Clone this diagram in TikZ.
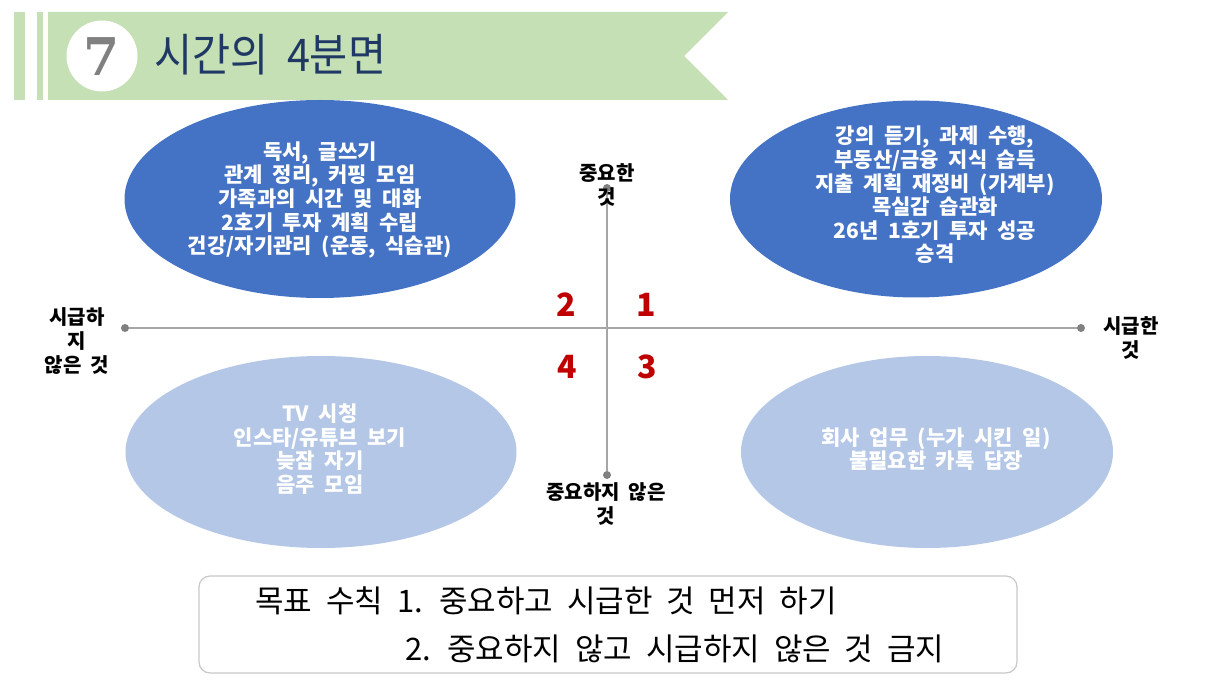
\documentclass[tikz,border=0pt]{standalone}
\usepackage{fontspec}
\usetikzlibrary{shapes.geometric}
\newfontfamily\kr{Noto Sans CJK KR}[WordSpace=2.8]
\newfontfamily\krt{Noto Sans CJK KR}[WordSpace=2]
\newfontfamily\serifb{DejaVu Serif}
\definecolor{dblue}{HTML}{4472C4}
\definecolor{lblue}{HTML}{B4C7E7}
\definecolor{bgreen}{HTML}{C5E0B4}
\definecolor{navy}{HTML}{1F3864}
\definecolor{qred}{HTML}{C00000}
\definecolor{axgray}{HTML}{A6A6A6}
\definecolor{dotgray}{HTML}{808080}
\definecolor{boxgray}{HTML}{C8C8C8}
\begin{document}
\begin{tikzpicture}[x=1pt,y=-1pt,
  ellD/.style={ellipse, fill=dblue, draw=none, inner sep=0pt},
  ellL/.style={ellipse, fill=lblue, draw=none, inner sep=0pt},
  etext/.style={text=white, font=\kr\bfseries\fontsize{21}{23.6}\selectfont, align=center, inner sep=0pt},
  axlabel/.style={text=black, font=\kr\bfseries\fontsize{20}{24}\selectfont, align=center, inner sep=0pt},
  qnum/.style={text=qred, font=\kr\bfseries\fontsize{32}{32}\selectfont, inner sep=0pt},
  dotc/.style={circle, fill=dotgray, draw=none, inner sep=0pt, minimum size=8pt},
  axisline/.style={draw=axgray, line width=1.5pt},
  goaltext/.style={text=black, font=\kr\fontsize{31}{36}\selectfont, inner sep=0pt, anchor=west}
]
\useasboundingbox (0,0) rectangle (1216,684);
\fill[white] (0,0) rectangle (1216,684);

% header banner
\fill[bgreen] (14,12) rectangle (25,100);
\fill[bgreen] (37,12) rectangle (43,100);
\fill[bgreen] (48,12) -- (728,12) -- (684,56) -- (728,100) -- (48,100) -- cycle;
\node[circle, fill=white, minimum size=71pt, inner sep=0pt] (numc) at (102,56) {};
\node[text=dotgray, font=\serifb\bfseries\fontsize{52}{52}\selectfont, inner sep=0pt] (numt) at (102,57) {7};
\node[text=navy, font=\krt\fontsize{45}{45}\selectfont, anchor=west, inner sep=0pt] (title) at (154,55) {\scalebox{0.92}[1]{시간의 4분면}};

% ellipses
\node[ellD, minimum width=391pt, minimum height=198pt] (e1) at (320,199) {};
\node[ellD, minimum width=372pt, minimum height=197pt] (e2) at (916,199) {};
\node[ellL, minimum width=391pt, minimum height=192pt] (e3) at (321,452) {};
\node[ellL, minimum width=372pt, minimum height=192pt] (e4) at (927,452) {};

\node[etext] (t1) at (320,200) {독서, 글쓰기\\관계 정리, 커핑 모임\\가족과의 시간 및 대화\\2호기 투자 계획 수립\\건강/자기관리 (운동, 식습관)};
\node[etext] (t2) at (935,195) {강의 듣기, 과제 수행,\\부동산/금융 지식 습득\\지출 계획 재정비 (가계부)\\목실감 습관화\\26년 1호기 투자 성공\\승격};
\node[etext] (t3) at (320,449) {TV 시청\\인스타/유튜브 보기\\늦잠 자기\\음주 모임};
\node[etext] (t4) at (936,449) {회사 업무 (누가 시킨 일)\\불필요한 카톡 답장};

% axes
\node[dotc] (L) at (125,328) {};
\node[dotc] (R) at (1081,328) {};
\node[dotc] (T) at (607,188) {};
\node[dotc] (B) at (607,475) {};
\draw[axisline] (L) -- (R);
\draw[axisline] (B) -- (T);

\node[axlabel] (lt) at (607,185) {중요한\\것};
\node[axlabel] (lb) at (606,504) {중요하지 않은\\것};
\node[axlabel] (ll) at (77,341) {시급하\\지\\않은 것};
\node[axlabel] (lr) at (1131,338) {시급한\\것};

\node[qnum] (q2) at (566,305) {2};
\node[qnum] (q1) at (646,305) {1};
\node[qnum] (q4) at (567,367) {4};
\node[qnum] (q3) at (647,367) {3};

% goal box
\draw[boxgray, line width=1.2pt, rounded corners=11pt] (199,576) rectangle (1017,673);
\node[goaltext] (g1) at (255,601) {목표 수칙 1. 중요하고 시급한 것 먼저 하기};
\node[goaltext] (g2) at (405,649) {2. 중요하지 않고 시급하지 않은 것 금지};
\end{tikzpicture}
\end{document}
